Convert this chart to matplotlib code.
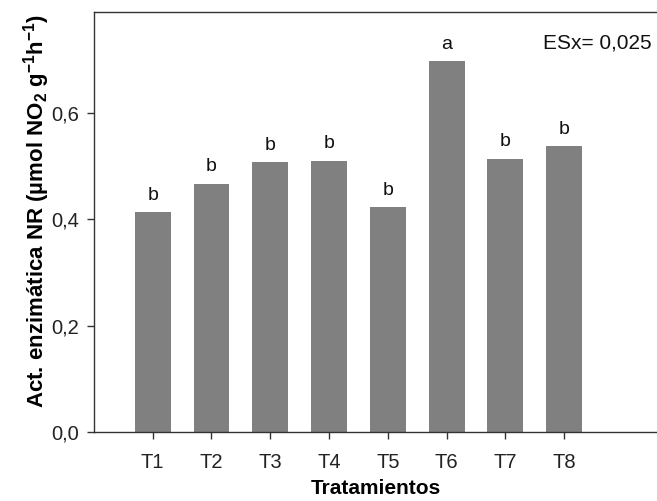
import matplotlib
matplotlib.use("Agg")
import matplotlib.pyplot as plt
from matplotlib.ticker import FuncFormatter

plt.rcParams['font.family'] = ['Liberation Sans', 'DejaVu Sans']
plt.rcParams['mathtext.fontset'] = 'custom'
plt.rcParams['mathtext.rm'] = 'Liberation Sans'
plt.rcParams['mathtext.bf'] = 'Liberation Sans:bold'

# datos
tratamientos = ['T1', 'T2', 'T3', 'T4', 'T5', 'T6', 'T7', 'T8']
actividad = [0.413, 0.467, 0.507, 0.510, 0.423, 0.697, 0.514, 0.537]
letras = ['b', 'b', 'b', 'b', 'b', 'a', 'b', 'b']

fig = plt.figure(figsize=(6.57, 5.01), dpi=100)
ax = fig.add_axes([0.143, 0.138, 0.857, 0.838])

pos = list(range(1, len(tratamientos) + 1))
ax.bar(pos, actividad, width=0.61, color='#808080', edgecolor='none')

for x, v, l in zip(pos, actividad, letras):
    ax.text(x, v + 0.016, l, ha='center', va='bottom', fontsize=14, color='#111111')

ax.text(0.99, 0.95, 'ESx= 0,025', transform=ax.transAxes, ha='right', va='top',
        fontsize=15, color='#111111')

ax.set_xlim(0, 9.58)
ax.set_ylim(0, 0.79)
ax.set_xticks(pos)
ax.set_xticklabels(tratamientos)
ax.set_yticks([0, 0.2, 0.4, 0.6])
ax.yaxis.set_major_formatter(FuncFormatter(lambda v, p: ('%.1f' % v).replace('.', ',')))

ax.spines['right'].set_visible(False)
for s in ['left', 'top', 'bottom']:
    ax.spines[s].set_color('#333333')
    ax.spines[s].set_linewidth(1.0)
ax.tick_params(direction='out', length=5, width=1, color='#333333',
               labelsize=14.5, labelcolor='#222222')
ax.tick_params(axis='x', pad=10)
ax.tick_params(axis='y', pad=6)

ax.set_xlabel('Tratamientos', fontsize=15, fontweight='bold', labelpad=5)
ax.set_ylabel(r'Act. enzimática NR (µmol NO$_\mathbf{2}$ g$^\mathbf{-1}$h$^\mathbf{-1}$)',
              fontsize=16, fontweight='bold')
ax.yaxis.set_label_coords(-0.075, 0.525)

fig.savefig('out.png', dpi=100)
